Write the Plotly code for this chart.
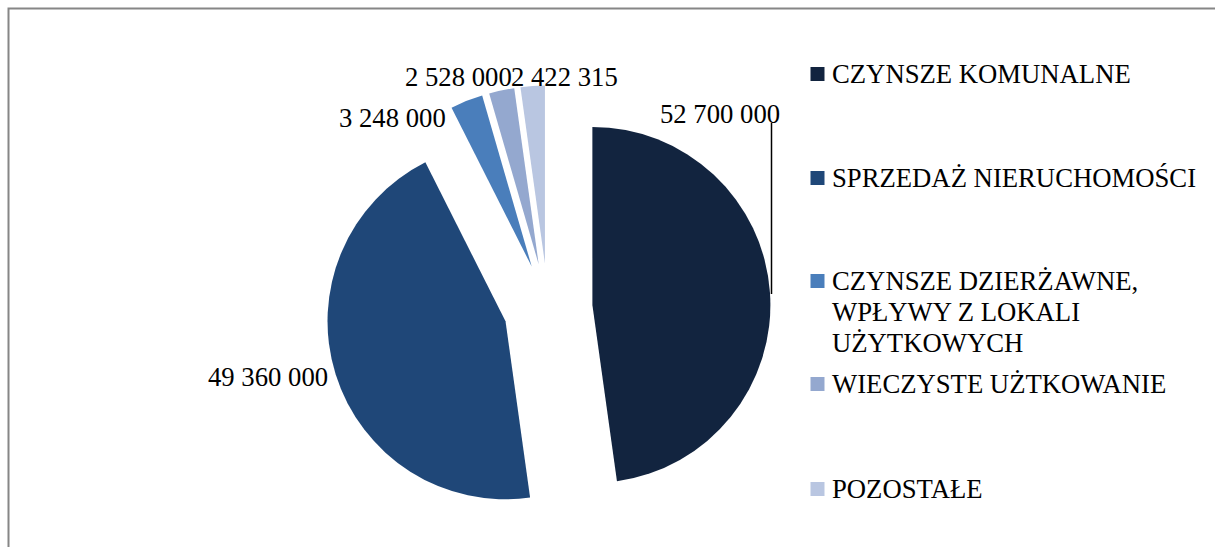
import plotly.graph_objects as go

# Revenue categories and amounts (PLN)
categories = [
    "CZYNSZE KOMUNALNE",
    "SPRZEDAŻ NIERUCHOMOŚCI",
    "CZYNSZE DZIERŻAWNE,<br>WPŁYWY Z LOKALI<br>UŻYTKOWYCH",
    "WIECZYSTE UŻTKOWANIE",
    "POZOSTAŁE",
]
values = [52700000, 49360000, 3248000, 2528000, 2422315]
colors = ["#12243f", "#1f4778", "#4a7ebb", "#94a8cf", "#b9c6e1"]

W, H = 1215, 547
FONT = "Liberation Serif"
FS = 26.7


def px(x):
    return x / W


def py(y):
    return 1 - y / H


def fmt(v):
    return f"{v:,}".replace(",", " ")


# pie centre and size in pixels (radius 178, every slice pulled out by a quarter)
cx, cy, r, pull = 548, 308, 178, 0.25
half = r * (1 + pull)

fig = go.Figure(
    go.Pie(
        labels=[c.replace("<br>", " ") for c in categories],
        values=values,
        sort=False,
        direction="clockwise",
        rotation=0,
        pull=[pull] * len(values),
        marker=dict(colors=colors, line=dict(width=0)),
        textinfo="none",
        hoverinfo="label+value",
        showlegend=False,
        domain=dict(x=[px(cx - half), px(cx + half)], y=[py(cy + half), py(cy - half)]),
    )
)

annotations = []
shapes = []

# value labels around the pie
label_pos = [(720, 114), (268, 377), (392, 118), (458, 77), (564, 77)]
for v, (lx, ly) in zip(values, label_pos):
    annotations.append(dict(
        x=px(lx), y=py(ly), xref="paper", yref="paper",
        text=fmt(v), showarrow=False, xanchor="center", yanchor="middle",
        font=dict(family=FONT, size=FS, color="#000000"),
    ))

# leader line from the first label to its slice
shapes.append(dict(type="line", xref="paper", yref="paper",
                   x0=px(771.5), x1=px(771.5), y0=py(123), y1=py(294),
                   line=dict(color="#000000", width=1.5)))

# legend: colour squares and category names
legend_y = [[74], [178], [281, 312, 343], [384], [489]]
for cat, col, ys in zip(categories, colors, legend_y):
    lines = cat.split("<br>")
    sy = ys[0]
    shapes.append(dict(type="rect", xref="paper", yref="paper",
                       x0=px(810.5), x1=px(824.5), y0=py(sy + 7), y1=py(sy - 7),
                       fillcolor=col, line=dict(width=0)))
    for line, ly in zip(lines, ys):
        annotations.append(dict(
            x=px(830), y=py(ly), xref="paper", yref="paper",
            text=line, showarrow=False, xanchor="left", yanchor="middle",
            font=dict(family=FONT, size=FS, color="#000000"),
        ))

# chart area border
shapes.append(dict(type="rect", xref="paper", yref="paper",
                   x0=px(8.5), x1=px(1240), y0=py(570), y1=py(8.5),
                   line=dict(color="#868686", width=2), fillcolor="rgba(0,0,0,0)"))

fig.update_layout(
    width=W, height=H,
    margin=dict(l=0, r=0, t=0, b=0),
    paper_bgcolor="#ffffff",
    plot_bgcolor="#ffffff",
    font=dict(family=FONT),
    annotations=annotations,
    shapes=shapes,
)

fig.write_html("out.html")
